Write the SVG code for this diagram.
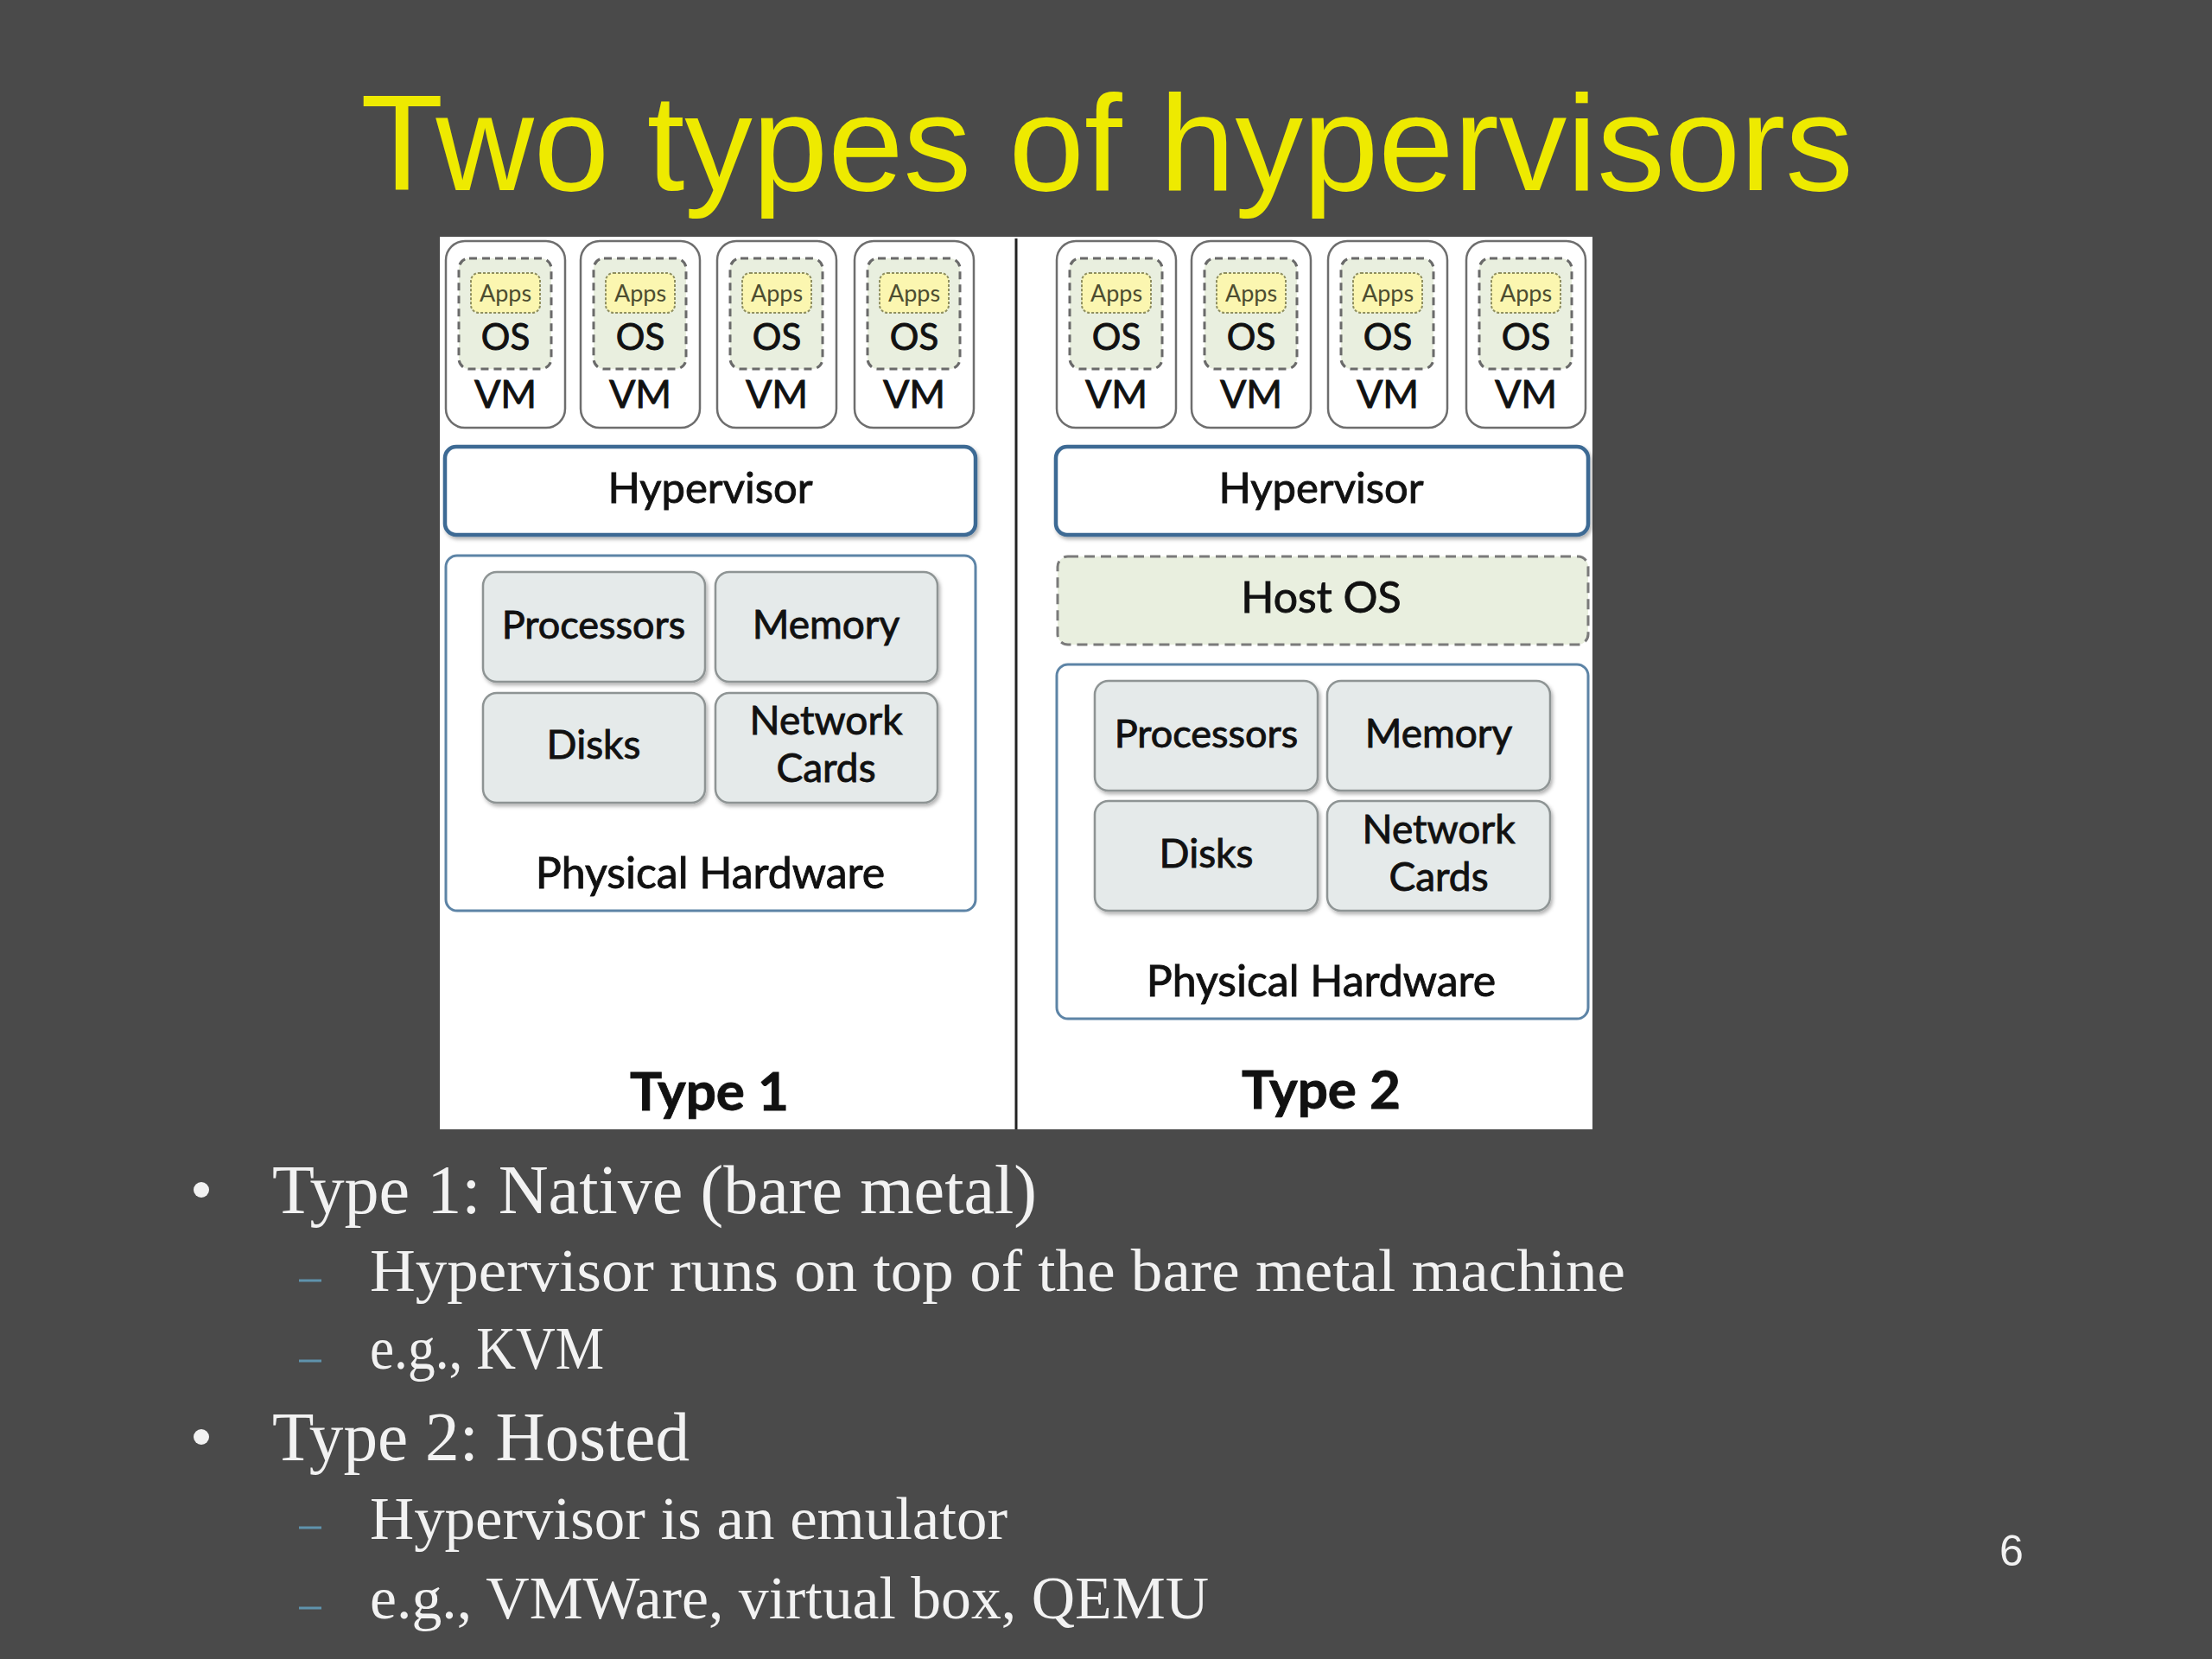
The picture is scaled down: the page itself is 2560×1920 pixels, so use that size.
<svg xmlns="http://www.w3.org/2000/svg" width="2560" height="1920" viewBox="0 0 2560 1920">
<style>
.bg{fill:#4a4a4a}
.title{font-family:"Liberation Sans",Arial,sans-serif;font-size:157px;fill:#eeea00}
.panel{fill:#ffffff}
.d{font-family:Lato,"Open Sans",sans-serif;fill:#111;stroke:#111;stroke-width:0.9;text-anchor:middle}
.vm{fill:#fff;stroke:#6e6e6e;stroke-width:2.5}
.osb{fill:#e9efdf;stroke:#6a6a6a;stroke-width:3;stroke-dasharray:9 6}
.apps{fill:#fbf6b0;stroke:#8f8f60;stroke-width:2;stroke-dasharray:3 2}
.appst{font-family:Lato,"Open Sans",sans-serif;font-size:27px;fill:#4d4d30;text-anchor:middle}
.hyp{fill:#fff;stroke:#3e6a94;stroke-width:4.5}
.hw{fill:#fff;stroke:#5d84a6;stroke-width:3}
.part{fill:#e5eaea;stroke:#8e9494;stroke-width:2.5}
.host{fill:#e9efdf;stroke:#7a7a7a;stroke-width:3;stroke-dasharray:12 7}
.b1{font-family:"Liberation Serif","Times New Roman",serif;font-size:80px;fill:#f2f2f2}
.b2{font-family:"Liberation Serif","Times New Roman",serif;font-size:70px;fill:#f2f2f2}
.dash{stroke:#5f93ad;stroke-width:3}
</style>
<defs>
<filter id="sh" x="-10%" y="-10%" width="130%" height="140%">
<feDropShadow dx="2" dy="3" stdDeviation="2" flood-color="#000" flood-opacity="0.3"/>
</filter>
<g id="vmtpl">
<rect class="vm" x="0" y="0" width="138" height="216" rx="22"/>
<rect class="osb" x="15" y="20" width="107" height="128" rx="12"/>
<rect class="apps" x="29" y="37" width="80" height="46" rx="9"/>
<text class="appst" x="69" y="70">Apps</text>
<text class="d" x="69" y="126" font-size="42">OS</text>
<text class="d" x="69" y="193" font-size="45">VM</text>
</g>
</defs>
<rect class="bg" x="0" y="0" width="2560" height="1920"/>
<text class="title" x="1281" y="220" text-anchor="middle">Two types of hypervisors</text>

<rect class="panel" x="509" y="274" width="1334" height="1033"/>
<g id="connectors">
<line x1="1176" y1="276" x2="1176" y2="1307" stroke="#222" stroke-width="3"/>
</g>

<!-- Type 1 -->
<g id="t1-vm1"><use href="#vmtpl" x="516" y="279"/></g>
<g id="t1-vm2"><use href="#vmtpl" x="672" y="279"/></g>
<g id="t1-vm3"><use href="#vmtpl" x="830" y="279"/></g>
<g id="t1-vm4"><use href="#vmtpl" x="989" y="279"/></g>
<g id="t1-hypervisor">
<rect class="hyp" x="515" y="517" width="614" height="102" rx="13" filter="url(#sh)"/>
<text class="d" x="822" y="582" font-size="49">Hypervisor</text>
</g>
<g id="t1-hardware">
<rect class="hw" x="516" y="643" width="613" height="411" rx="13"/>
<text class="d" x="822" y="1028" font-size="50">Physical Hardware</text>
</g>
<g id="t1-processors">
<rect class="part" x="559" y="662" width="257" height="127" rx="16" filter="url(#sh)"/>
<text class="d" x="687" y="739" font-size="45">Processors</text>
</g>
<g id="t1-memory">
<rect class="part" x="828" y="662" width="257" height="127" rx="16" filter="url(#sh)"/>
<text class="d" x="956" y="739" font-size="46">Memory</text>
</g>
<g id="t1-disks">
<rect class="part" x="559" y="802" width="257" height="127" rx="16" filter="url(#sh)"/>
<text class="d" x="687" y="878" font-size="46">Disks</text>
</g>
<g id="t1-network">
<rect class="part" x="828" y="802" width="257" height="127" rx="16" filter="url(#sh)"/>
<text class="d" x="956" y="850" font-size="46">Network</text>
<text class="d" x="956" y="905" font-size="46">Cards</text>
</g>
<text class="d" x="821" y="1285" font-size="62" font-weight="bold">Type 1</text>

<!-- Type 2 -->
<g id="t2-vm1"><use href="#vmtpl" x="1223" y="279"/></g>
<g id="t2-vm2"><use href="#vmtpl" x="1379" y="279"/></g>
<g id="t2-vm3"><use href="#vmtpl" x="1537" y="279"/></g>
<g id="t2-vm4"><use href="#vmtpl" x="1697" y="279"/></g>
<g id="t2-hypervisor">
<rect class="hyp" x="1222" y="517" width="616" height="102" rx="13" filter="url(#sh)"/>
<text class="d" x="1529" y="582" font-size="49">Hypervisor</text>
</g>
<g id="t2-hostos">
<rect class="host" x="1224" y="644" width="614" height="102" rx="12"/>
<text class="d" x="1529" y="709" font-size="50">Host OS</text>
</g>
<g id="t2-hardware">
<rect class="hw" x="1223" y="769" width="615" height="410" rx="13"/>
<text class="d" x="1529" y="1153" font-size="50">Physical Hardware</text>
</g>
<g id="t2-processors">
<rect class="part" x="1267" y="788" width="258" height="127" rx="16" filter="url(#sh)"/>
<text class="d" x="1396" y="865" font-size="45">Processors</text>
</g>
<g id="t2-memory">
<rect class="part" x="1536" y="788" width="258" height="127" rx="16" filter="url(#sh)"/>
<text class="d" x="1665" y="865" font-size="46">Memory</text>
</g>
<g id="t2-disks">
<rect class="part" x="1267" y="927" width="258" height="127" rx="16" filter="url(#sh)"/>
<text class="d" x="1396" y="1004" font-size="46">Disks</text>
</g>
<g id="t2-network">
<rect class="part" x="1536" y="927" width="258" height="127" rx="16" filter="url(#sh)"/>
<text class="d" x="1665" y="976" font-size="46">Network</text>
<text class="d" x="1665" y="1031" font-size="46">Cards</text>
</g>
<text class="d" x="1529" y="1283" font-size="62" font-weight="bold">Type 2</text>

<!-- Bullets -->
<circle cx="233" cy="1377" r="9" fill="#f2f2f2"/>
<text class="b1" x="315" y="1404" textLength="885" lengthAdjust="spacingAndGlyphs">Type 1: Native (bare metal)</text>
<line class="dash" x1="346" y1="1482" x2="372" y2="1482"/>
<text class="b2" x="428" y="1494" textLength="1453" lengthAdjust="spacingAndGlyphs">Hypervisor runs on top of the bare metal machine</text>
<line class="dash" x1="346" y1="1575" x2="372" y2="1575"/>
<text class="b2" x="428" y="1584" textLength="271" lengthAdjust="spacingAndGlyphs">e.g., KVM</text>
<circle cx="233" cy="1663" r="9" fill="#f2f2f2"/>
<text class="b1" x="315" y="1690" textLength="483" lengthAdjust="spacingAndGlyphs">Type 2: Hosted</text>
<line class="dash" x1="346" y1="1768" x2="372" y2="1768"/>
<text class="b2" x="428" y="1781" textLength="738" lengthAdjust="spacingAndGlyphs">Hypervisor is an emulator</text>
<line class="dash" x1="346" y1="1861" x2="372" y2="1861"/>
<text class="b2" x="428" y="1873" textLength="971" lengthAdjust="spacingAndGlyphs">e.g., VMWare, virtual box, QEMU</text>

<text x="2328" y="1812" font-family="Liberation Sans,Arial,sans-serif" font-size="50" fill="#f2f2f2" text-anchor="middle">6</text>
</svg>
